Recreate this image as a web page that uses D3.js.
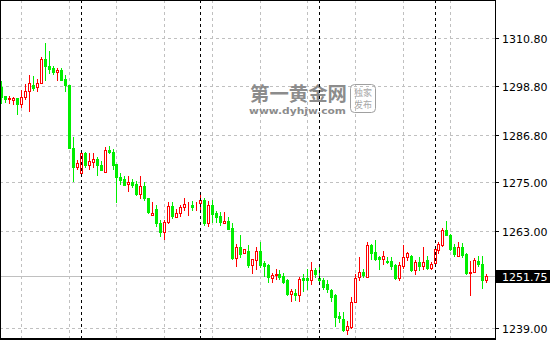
<!DOCTYPE html>
<html><head><meta charset="utf-8">
<script src="https://cdn.jsdelivr.net/npm/d3@7"></script>
<style>html,body{margin:0;padding:0;background:#fff;overflow:hidden}</style>
</head><body><svg id="c" width="550" height="340"></svg>
<script>
const opens=[1298.7,1296.4,1295.6,1295.4,1295.8,1294.4,1296.1,1297.7,1299.0,1298.5,
1299.7,1305.5,1303.8,1303.3,1302.2,1302.8,1300.5,1299.1,1283.6,1278.7,
1277.2,1282.3,1279.4,1280.0,1280.7,1279.25,1277.6,1283.0,1282.5,1279.5,
1276.2,1275.7,1274.5,1275.0,1274.7,1272.0,1274.1,1271.0,1267.0,1268.5,
1264.9,1262.7,1265.2,1269.2,1266.3,1267.3,1268.9,1269.1,1269.3,1268.9,
1269.9,1270.7,1264.9,1269.3,1267.5,1266.6,1264.9,1265.3,1263.7,1256.2,
1258.9,1257.5,1258.1,1254.4,1255.7,1257.9,1255.0,1254.4,1251.4,1252.0,
1252.4,1251.8,1250.7,1247.4,1247.5,1247.1,1251.3,1251.2,1250.7,1253.2,
1251.4,1250.9,1249.7,1248.4,1247.0,1242.0,1241.2,1238.45,1239.1,1245.3,
1251.5,1252.9,1251.5,1259.4,1257.7,1256.6,1255.9,1255.6,1255.6,1254.5,
1251.2,1254.2,1256.4,1256.8,1253.35,1255.2,1254.2,1255.7,1253.75,1255.0,
1258.3,1259.45,1263.25,1261.9,1258.9,1256.8,1258.9,1257.2,1252.5,1252.85,
1255.55,1254.7,1250.85];
const highs=[1300.0,1296.4,1296.4,1296.2,1295.8,1297.9,1299.4,1301.6,1301.4,1300.5,
1306.0,1309.6,1307.6,1303.8,1303.3,1303.3,1301.6,1299.1,1286.1,1280.5,
1282.6,1282.6,1282.2,1282.2,1281.2,1280.2,1283.8,1284.0,1283.3,1279.5,
1277.2,1276.5,1276.5,1275.8,1275.2,1276.5,1275.1,1271.2,1270.1,1269.3,
1265.6,1265.6,1270.1,1270.1,1268.5,1269.3,1271.0,1270.1,1270.3,1270.1,
1272.6,1271.2,1270.4,1270.6,1267.8,1267.7,1267.7,1266.4,1264.8,1259.8,
1261.9,1258.6,1259.4,1255.9,1259.0,1260.2,1255.6,1254.8,1252.6,1253.6,
1253.2,1252.6,1251.1,1248.6,1248.5,1251.5,1252.4,1253.6,1255.2,1253.8,
1254.0,1251.2,1250.7,1248.6,1247.4,1242.8,1242.8,1240.75,1246.7,1252.35,
1256.6,1253.6,1260.2,1259.8,1260.8,1256.8,1258.1,1256.4,1256.4,1254.7,
1255.2,1259.5,1257.8,1257.1,1255.85,1256.6,1258.9,1256.8,1255.3,1259.1,
1260.3,1263.6,1265.3,1262.2,1259.7,1260.1,1259.9,1257.4,1255.6,1256.15,
1256.8,1256.8,1252.3];
const lows=[1294.6,1294.9,1294.7,1294.4,1291.9,1293.7,1295.6,1292.7,1297.9,1297.7,
1299.5,1300.4,1302.0,1301.8,1300.4,1300.4,1297.5,1283.6,1275.4,1278.4,
1276.8,1278.7,1278.4,1278.8,1276.8,1278.0,1277.6,1282.2,1278.2,1270.1,
1274.7,1274.3,1272.9,1273.8,1271.8,1271.0,1270.7,1267.4,1266.8,1264.1,
1261.6,1261.0,1264.9,1266.1,1266.3,1266.6,1268.1,1266.8,1268.1,1268.1,
1268.1,1264.5,1264.2,1265.2,1265.2,1264.5,1264.9,1263.5,1256.1,1254.2,
1256.5,1257.5,1254.0,1252.6,1253.6,1254.0,1251.9,1250.3,1250.4,1251.1,
1251.1,1250.1,1247.0,1245.7,1245.9,1245.7,1248.0,1248.6,1249.9,1251.5,
1249.9,1248.6,1247.8,1245.7,1239.5,1240.3,1238.3,1237.45,1238.95,1245.3,
1250.7,1251.6,1251.5,1256.1,1255.8,1253.5,1254.7,1255.1,1253.5,1251.0,
1250.85,1253.9,1255.8,1253.1,1252.25,1253.35,1253.5,1253.5,1253.5,1254.7,
1257.5,1259.3,1261.9,1258.3,1256.8,1256.65,1256.5,1252.25,1247.0,1252.7,
1254.3,1248.95,1250.4];
const closes=[1296.1,1295.6,1295.9,1295.9,1294.4,1296.1,1297.7,1299.5,1298.4,1299.7,
1305.6,1303.7,1303.1,1302.2,1302.8,1300.4,1299.0,1283.6,1278.8,1279.7,
1282.2,1279.25,1280.2,1280.8,1279.25,1278.0,1283.0,1282.4,1279.25,1276.2,
1275.5,1274.3,1275.0,1274.3,1272.2,1274.1,1271.0,1267.7,1267.4,1264.9,
1262.7,1265.2,1269.2,1266.6,1267.4,1269.0,1269.6,1269.2,1268.9,1269.0,
1270.6,1264.9,1269.3,1267.2,1266.4,1265.2,1265.3,1263.5,1256.2,1258.95,
1257.3,1258.6,1254.4,1255.9,1257.9,1254.4,1254.2,1251.5,1252.1,1252.4,
1251.5,1250.3,1247.4,1248.0,1247.1,1251.1,1250.7,1250.9,1253.2,1252.4,
1250.7,1249.0,1248.6,1246.7,1241.7,1241.3,1238.45,1239.5,1245.3,1251.35,
1252.9,1252.1,1259.4,1257.5,1256.1,1256.0,1256.8,1255.3,1254.2,1251.2,
1254.5,1256.4,1257.4,1253.35,1255.2,1254.2,1255.3,1253.75,1254.7,1258.5,
1259.7,1263.25,1261.9,1258.6,1257.2,1258.9,1257.0,1252.5,1252.85,1255.8,
1254.7,1250.85,1251.75];
const tickValues=[1310.8,1298.8,1286.8,1275.0,1263.0,1239.0];
const tickLabels=["1310.80","1298.80","1286.80","1275.00","1263.00","1239.00"];
const lastPrice=1251.75;
const lastLabel="1251.75";
const gridIdx=[5,17,29,41,53,65,77,89,101,113];
const sepIdx=[20,50,80,109];
const wmTitle="第一黄金网", wmUrl="www.dyhjw.com", wmBadge=["独家","发布"];

const svg=d3.select("#c");
const W=550,H=340,AX=495;
const idx=d3.range(opens.length);
const x=d3.scalePoint().domain(idx).range([1.7,486.7]);
const y=d3.scaleLinear().domain([1239,1310.8]).range([327.7,37.7]);
const py=v=>Math.round(y(v));
const GRID="#c0c0c0", UP="#ff0000", DN="#00ee00";

svg.append("rect").attr("width",W).attr("height",H).attr("fill","#fff");

// grid
svg.append("g").selectAll("line").data(tickValues).join("line")
  .attr("x1",0).attr("x2",AX).attr("y1",d=>py(d)+0.5).attr("y2",d=>py(d)+0.5)
  .attr("stroke",GRID).attr("stroke-dasharray","3,3");
svg.append("g").selectAll("line").data(gridIdx).join("line")
  .attr("x1",d=>Math.floor(x(d))+0.5).attr("x2",d=>Math.floor(x(d))+0.5)
  .attr("y1",0).attr("y2",338).attr("stroke",GRID).attr("stroke-dasharray","3,3");

// watermark
const wm=svg.append("g");
wm.append("text").attr("x",250).attr("y",101).text(wmTitle)
  .attr("font-family","Noto Sans CJK SC").attr("font-weight","bold").attr("font-size",19)
  .attr("textLength",97).attr("lengthAdjust","spacingAndGlyphs").attr("fill","#8c8c8c");
wm.append("text").attr("x",249).attr("y",113.5).text(wmUrl)
  .attr("font-family","DejaVu Sans").attr("font-weight","bold").attr("font-size",9.5)
  .attr("textLength",97).attr("lengthAdjust","spacingAndGlyphs").attr("fill","#8c8c8c");
wm.append("rect").attr("x",350.5).attr("y",84.5).attr("width",25).attr("height",28).attr("rx",4)
  .attr("fill","none").attr("stroke","#a0a0a0");
wm.selectAll("text.b").data(wmBadge).join("text").attr("class","b")
  .attr("x",363).attr("y",(d,i)=>96+i*12).attr("text-anchor","middle").text(d=>d)
  .attr("font-family","Noto Sans CJK SC").attr("font-size",9).attr("fill","#a8a8a8");

// price line
svg.append("line").attr("x1",0).attr("x2",AX).attr("y1",py(lastPrice)+0.5).attr("y2",py(lastPrice)+0.5)
  .attr("stroke","#c0c0c0");

// candles
const cd=idx.map(i=>({i,o:opens[i],h:highs[i],l:lows[i],c:closes[i]}));
const g=svg.append("g").selectAll("g").data(cd).join("g");
g.append("line")
  .attr("x1",d=>Math.floor(x(d.i))+0.5).attr("x2",d=>Math.floor(x(d.i))+0.5)
  .attr("y1",d=>py(d.h)).attr("y2",d=>py(d.l)+1)
  .attr("stroke",d=>d.c>=d.o?UP:DN);
g.each(function(d){
  const s=d3.select(this), c=Math.floor(x(d.i));
  const t=py(Math.max(d.o,d.c)), b=py(Math.min(d.o,d.c));
  if(d.c>=d.o){
    s.append("rect").attr("x",c-0.5).attr("y",t+0.5).attr("width",2).attr("height",Math.max(0,b-t))
      .attr("fill","#fff").attr("stroke",UP);
  } else {
    s.append("rect").attr("x",c-1).attr("y",t).attr("width",3).attr("height",Math.max(1,b-t+1))
      .attr("fill",DN);
  }
});

// separators
svg.append("g").selectAll("line").data(sepIdx).join("line")
  .attr("x1",d=>Math.floor(x(d))+0.5).attr("x2",d=>Math.floor(x(d))+0.5)
  .attr("y1",0).attr("y2",338).attr("stroke","#000").attr("stroke-dasharray","3,3");

// frame
svg.append("line").attr("x1",0).attr("x2",AX).attr("y1",0.5).attr("y2",0.5).attr("stroke","#000");
svg.append("line").attr("x1",0.5).attr("x2",0.5).attr("y1",0).attr("y2",H).attr("stroke","#000");
svg.append("rect").attr("x",0).attr("y",338).attr("width",AX+1).attr("height",2).attr("fill","#000");
svg.append("line").attr("x1",AX+0.5).attr("x2",AX+0.5).attr("y1",0).attr("y2",H).attr("stroke","#000");

// axis ticks & labels
const ax=svg.append("g");
ax.selectAll("line").data(tickValues).join("line")
  .attr("x1",AX).attr("x2",AX+4).attr("y1",d=>py(d)+0.5).attr("y2",d=>py(d)+0.5).attr("stroke","#000");
ax.selectAll("text").data(tickValues).join("text")
  .attr("x",502).attr("y",d=>py(d)+4.5).text((d,i)=>tickLabels[i])
  .attr("font-family","DejaVu Sans").attr("font-size",11).attr("fill","#000");

// last price label
const ly=py(lastPrice);
svg.append("rect").attr("x",AX+1).attr("y",ly-6).attr("width",W-AX-1).attr("height",13).attr("fill","#000");
svg.append("text").attr("x",502).attr("y",ly+5).text(lastLabel)
  .attr("font-family","DejaVu Sans").attr("font-size",11).attr("fill","#fff");
</script></body></html>
